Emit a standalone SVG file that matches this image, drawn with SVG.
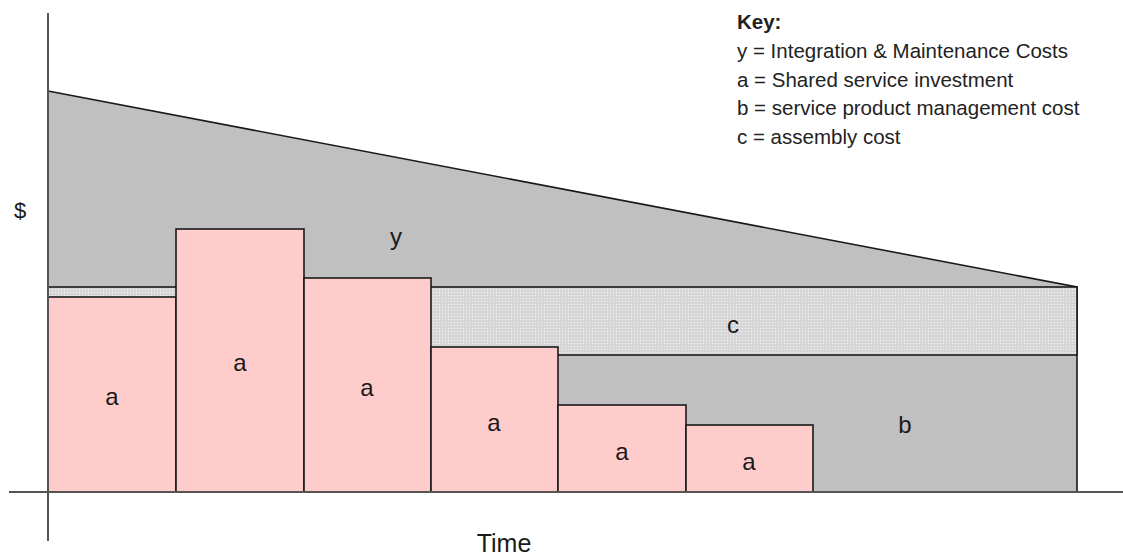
<svg xmlns="http://www.w3.org/2000/svg" width="1123" height="558" viewBox="0 0 1123 558">
  <style>
    .edge { stroke: #1a1a1a; stroke-width: 1.6; }
    .bar { fill: #ffcccc; stroke: #1a1a1a; stroke-width: 1.6; }
    .area { fill: #c0c0c0; stroke: #1a1a1a; stroke-width: 1.6; }
    .axis { stroke: #555; stroke-width: 2; fill: none; }
    .lbl { font-family: "Liberation Sans", Arial, sans-serif; font-size: 24px; fill: #1a1a1a; text-anchor: middle; }
    .key { font-family: "Liberation Sans", Arial, sans-serif; font-size: 20.5px; fill: #222; }
  </style>
  <defs>
    <pattern id="dots" width="3" height="3" patternUnits="userSpaceOnUse">
      <rect width="3" height="3" fill="#d6d6d6"/>
      <rect x="1" y="1" width="1" height="1" fill="#f4f4f4"/>
    </pattern>
  </defs>
  <rect width="1123" height="558" fill="#ffffff"/>

  <!-- y: integration & maintenance costs -->
  <g id="area-y">
    <polygon class="area" points="48,91 1077,287 1077,492 48,492"/>
    <text class="lbl" x="396" y="245">y</text>
  </g>

  <!-- c: assembly cost band -->
  <g id="band-c">
    <rect x="48" y="287" width="1029" height="68" fill="url(#dots)" class="edge"/>
    <text class="lbl" x="733" y="333">c</text>
  </g>

  <!-- b: service product management cost -->
  <g id="area-b">
    <text class="lbl" x="905" y="433">b</text>
  </g>

  <!-- a: shared service investment, one bar per period -->
  <g id="bar-1">
    <rect class="bar" x="48" y="297" width="128" height="195"/>
    <text class="lbl" x="112" y="405">a</text>
  </g>
  <g id="bar-2">
    <rect class="bar" x="176" y="229" width="128" height="263"/>
    <text class="lbl" x="240" y="371">a</text>
  </g>
  <g id="bar-3">
    <rect class="bar" x="304" y="278" width="127" height="214"/>
    <text class="lbl" x="367" y="396">a</text>
  </g>
  <g id="bar-4">
    <rect class="bar" x="431" y="347" width="127" height="145"/>
    <text class="lbl" x="494" y="431">a</text>
  </g>
  <g id="bar-5">
    <rect class="bar" x="558" y="405" width="128" height="87"/>
    <text class="lbl" x="622" y="460">a</text>
  </g>
  <g id="bar-6">
    <rect class="bar" x="686" y="425" width="127" height="67"/>
    <text class="lbl" x="749" y="470">a</text>
  </g>

  <!-- axes -->
  <g id="axes">
    <line class="axis" x1="48" y1="13" x2="48" y2="541"/>
    <line class="axis" x1="9" y1="492" x2="1123" y2="492"/>
    <text class="lbl" x="20" y="218" style="font-size:22px">$</text>
    <text class="lbl" x="504" y="552" style="font-size:25px">Time</text>
  </g>

  <!-- legend -->
  <g id="key">
    <text class="key" x="737" y="29" font-weight="bold">Key:</text>
    <text class="key" x="737" y="58">y = Integration &amp; Maintenance Costs</text>
    <text class="key" x="737" y="87">a = Shared service investment</text>
    <text class="key" x="737" y="115">b = service product management cost</text>
    <text class="key" x="737" y="144">c = assembly cost</text>
  </g>
</svg>
